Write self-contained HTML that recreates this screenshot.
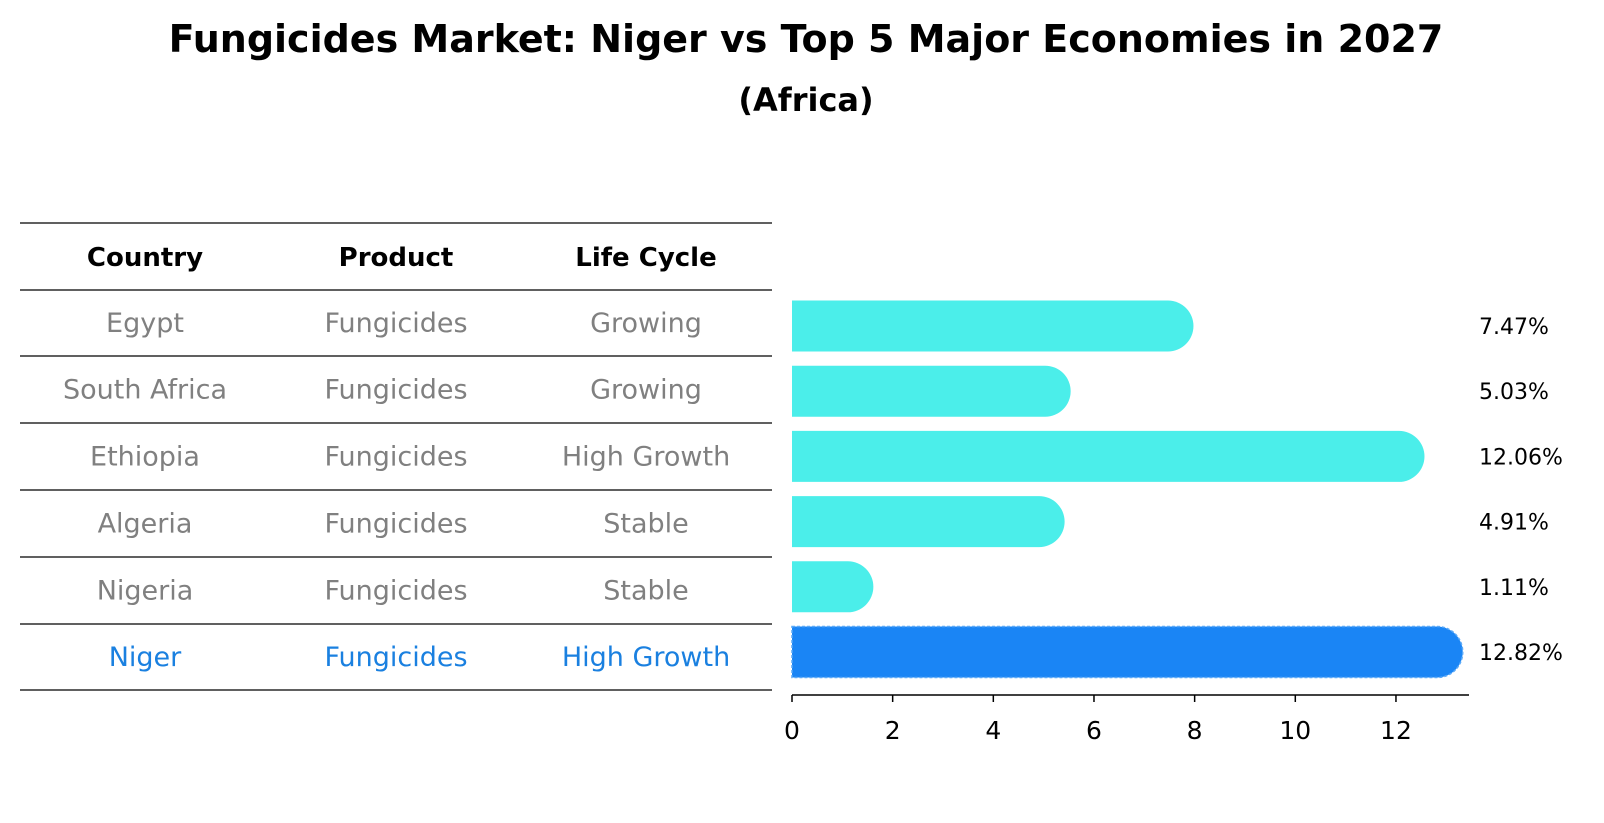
<!DOCTYPE html>
<html><head><meta charset="utf-8"><style>
body{margin:0;background:#fff;}
svg{display:block;font-family:"DejaVu Sans","Liberation Sans",sans-serif;}
</style></head><body>
<svg id="c" width="1604" height="823">
<text x="806" y="52" text-anchor="middle" font-size="38" font-weight="bold">Fungicides Market: Niger vs Top 5 Major Economies in 2027</text>
<text x="806" y="111" text-anchor="middle" font-size="32" font-weight="bold">(Africa)</text>
<g id="table"></g>
<g id="bars"></g>
</svg>
<script>
const countries=["Egypt","South Africa","Ethiopia","Algeria","Nigeria","Niger"];
const products=["Fungicides","Fungicides","Fungicides","Fungicides","Fungicides","Fungicides"];
const lifecycles=["Growing","Growing","High Growth","Stable","Stable","High Growth"];
const values=[7.47,5.03,12.06,4.91,1.11,12.82];
const ticks=[0,2,4,6,8,10,12];
const NS="http://www.w3.org/2000/svg";
function mk(tag,attrs,parent,txt){const e=document.createElementNS(NS,tag);for(const k in attrs)e.setAttribute(k,attrs[k]);if(txt!==undefined)e.textContent=txt;parent.appendChild(e);return e;}
const tb=document.getElementById('table');
const lineYs=[223,290,356,423,490,557,624,690];
const colX=[145,396,646];
lineYs.forEach((y,i)=>{const l=mk('line',{x1:20,x2:772,y1:y,y2:y,stroke:'#000','stroke-width':1.2},tb);

});
["Country","Product","Life Cycle"].forEach((h,i)=>{const t=mk('text',{x:colX[i],y:266,'text-anchor':'middle','font-size':26,'font-weight':'bold'},tb,h);

});
countries.forEach((c,r)=>{const cy=(lineYs[r+1]+lineYs[r+2])/2+9;const col=r===countries.length-1?'#1a80e0':'#808080';
[c,products[r],lifecycles[r]].forEach((v,i)=>{const t=mk('text',{x:colX[i],y:cy,'text-anchor':'middle','font-size':27,fill:col},tb,v);

});});
const bg=document.getElementById('bars');
const x0=792,ppu=50.33;const X=v=>x0+v*ppu;
const rowY=r=>326+r*65.2;const bh=51;
values.forEach((v,r)=>{const last=r===values.length-1;const col=last?'#1a85f5':'#4beeea';const cy=rowY(r);
const p=mk('path',{d:`M${X(0)},${cy-bh/2} H${X(v)} A${bh/2},${bh/2} 0 0 1 ${X(v)},${cy+bh/2} H${X(0)} Z`,fill:col,stroke:last?'#5aa9f8':'none','stroke-dasharray':last?'3,2':'none','stroke-width':1.5},bg);


const t=mk('text',{x:1479,y:cy+8,'font-size':22},bg,v.toFixed(2)+'%');

});
const ax=mk('line',{x1:X(0),x2:1469,y1:695,y2:695,stroke:'#000','stroke-width':1.5},bg);


ticks.forEach(t=>{const l=mk('line',{x1:X(t),x2:X(t),y1:695,y2:702,stroke:'#000','stroke-width':1.5},bg);


const tx=mk('text',{x:X(t),y:739,'text-anchor':'middle','font-size':25},bg,String(t));

});
</script>
</body></html>
